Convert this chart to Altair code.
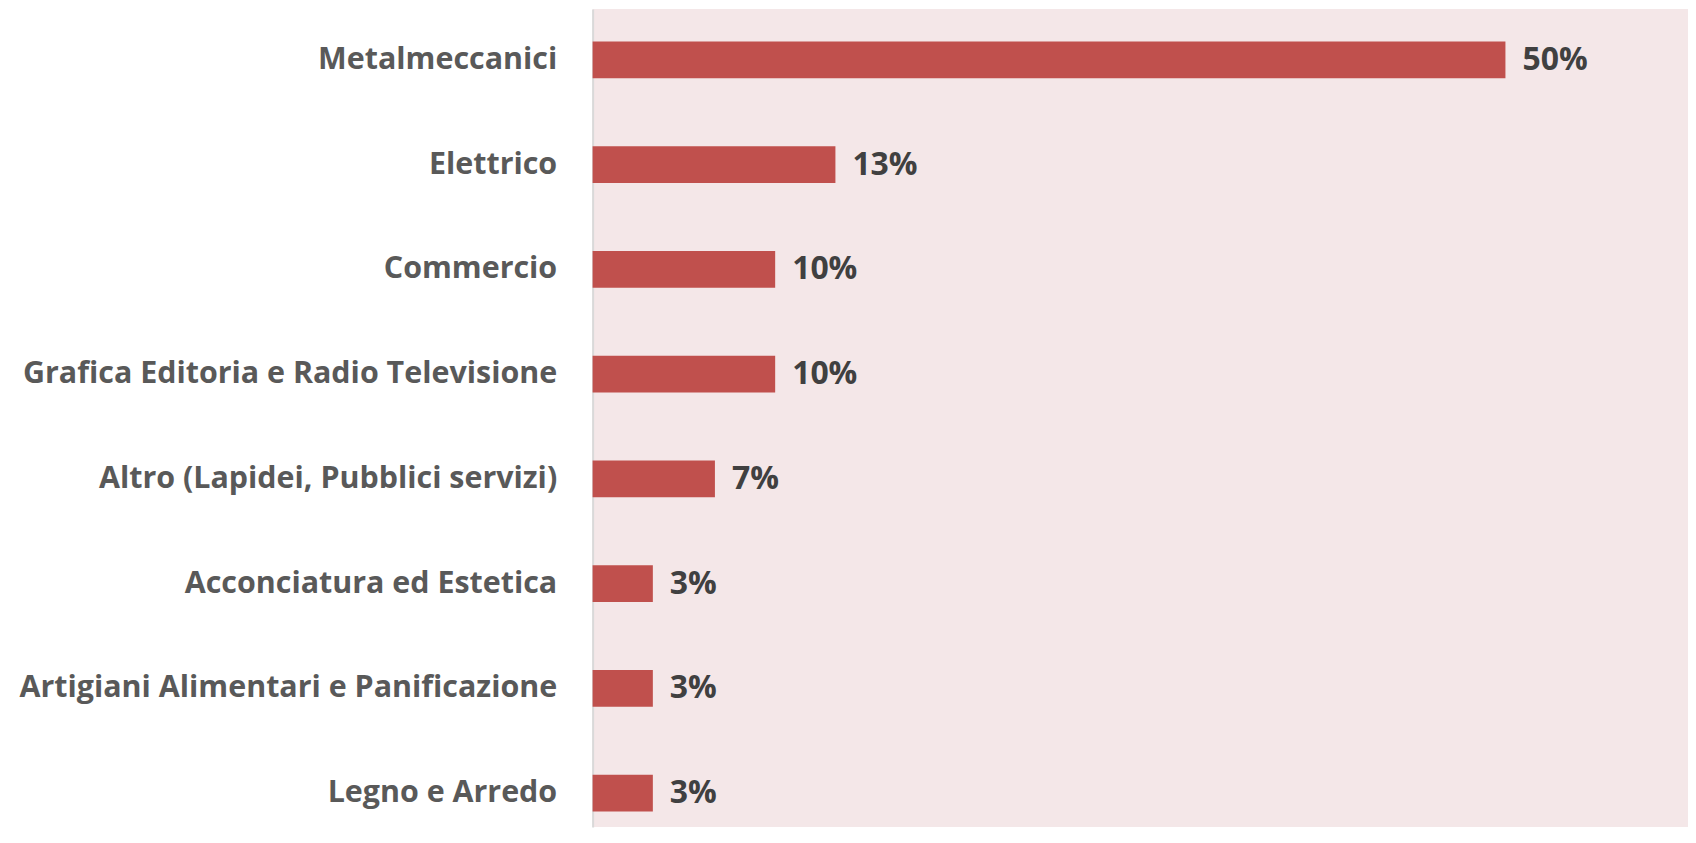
import altair as alt
import pandas as pd

categories = [
    "Metalmeccanici",
    "Elettrico",
    "Commercio",
    "Grafica Editoria e Radio Televisione",
    "Altro (Lapidei, Pubblici servizi)",
    "Acconciatura ed Estetica",
    "Artigiani Alimentari e Panificazione",
    "Legno e Arredo",
]
values = [50.0, 13.3, 10.0, 10.0, 6.7, 3.3, 3.3, 3.3]
labels = ["50%", "13%", "10%", "10%", "7%", "3%", "3%", "3%"]

df = pd.DataFrame({"cat": categories, "val": values, "lab": labels})

FONT = "Open Sans"

y_enc = alt.Y(
    "cat:N",
    sort=categories,
    scale=alt.Scale(paddingInner=0.648, paddingOuter=0.229, align=0.677),
    axis=alt.Axis(
        title=None,
        ticks=False,
        domain=True,
        domainColor="#D9D9D9",
        domainWidth=2,
        labelFont=FONT,
        labelFontWeight="bold",
        labelFontSize=30.5,
        labelColor="#595959",
        labelPadding=36,
        labelLimit=900,
        grid=False,
    ),
)
x_enc = alt.X("val:Q", scale=alt.Scale(domain=[0, 60], nice=False), axis=None)

bars = alt.Chart(df).mark_bar(color="#C0504D").encode(y=y_enc, x=x_enc)
text = alt.Chart(df).mark_text(
    align="left", baseline="middle", dx=17, font=FONT, fontWeight="bold",
    fontSize=32, color="#404040"
).encode(y=alt.Y("cat:N", sort=categories), x=alt.X("val:Q"), text="lab:N")

chart = (
    alt.layer(bars, text)
    .properties(
        width=1098,
        height=820,
        background="white",
        padding={"left": 586, "top": 0, "right": 0, "bottom": 0},
        autosize=alt.AutoSizeParams(type="none"),
    )
    .configure_view(fill="#F4E7E8", stroke=None)
)

chart.save("out.html", embed_options={"renderer": "svg", "actions": False})
